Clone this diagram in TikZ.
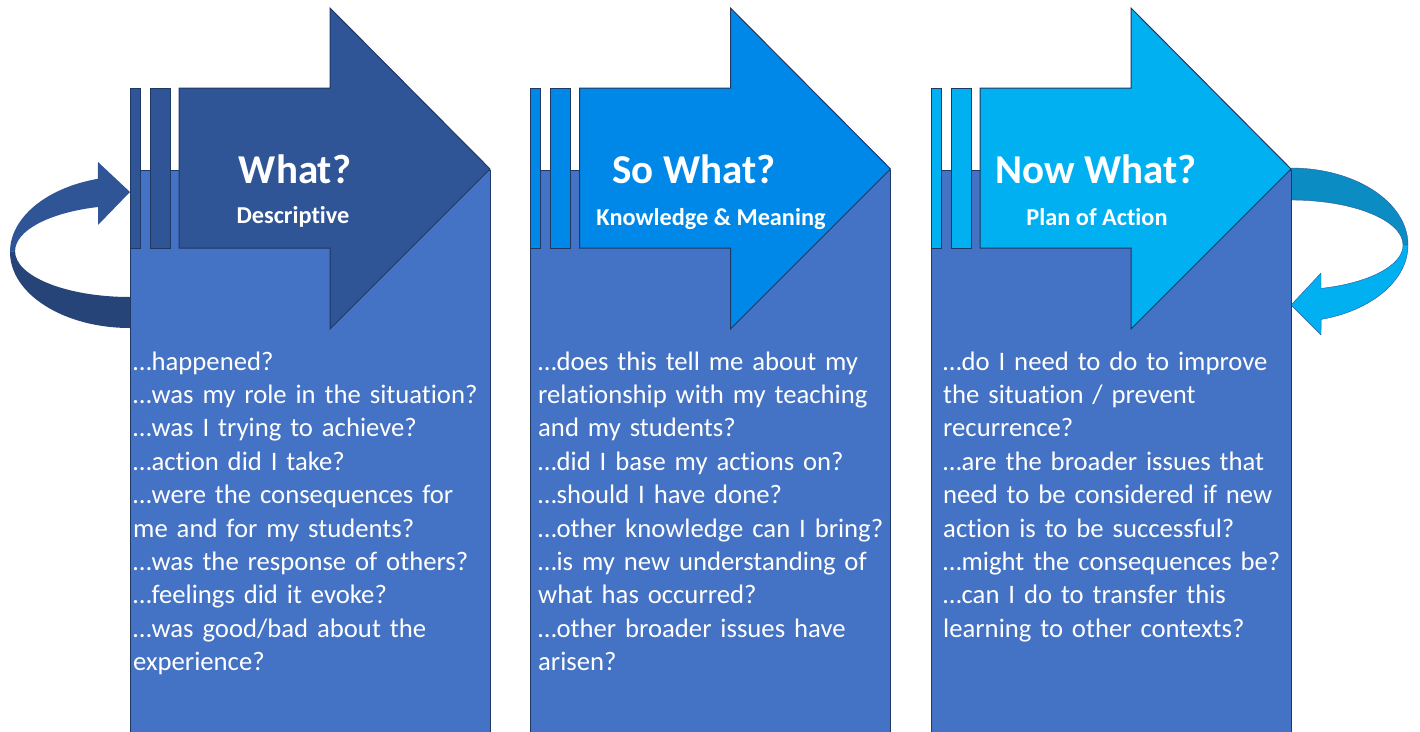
\documentclass[tikz,border=0pt]{standalone}
\usepackage{fontspec}
\setmainfont{Carlito}[Ligatures=CommonOff,Contextuals=AlternateOff,RawFeature={-liga;-clig;-calt;-dlig}]
\definecolor{navy}{HTML}{1F3864}
\definecolor{bodyblue}{HTML}{4472C4}
\definecolor{whatblue}{HTML}{2F5597}
\definecolor{sowhatblue}{HTML}{0088E8}
\definecolor{nowwhatblue}{HTML}{00B0F0}
\definecolor{loopdark}{HTML}{264478}
\definecolor{loopcyan}{HTML}{0B8DC4}
\begin{document}
\begin{tikzpicture}[x=1pt,y=-1pt,
		bodybox/.style={fill=bodyblue,draw=navy,line width=1pt},
		bigarrow/.style={draw=navy,line width=1pt,line join=miter},
		title/.style={text=white,font=\fontsize{41}{48}\selectfont\bfseries,anchor=base,inner sep=0pt},
		subtitle/.style={text=white,font=\fontsize{24.3}{28}\selectfont\bfseries,anchor=base,inner sep=0pt},
		questions/.style={text=white,font=\fontsize{26.7}{33.4}\selectfont,anchor=base west,align=left,inner sep=0pt,text width=400pt}]
		\useasboundingbox (0,0) rectangle (1420,731);
		% loop back into the first step
		\fill[loopdark](10,252) arc[start angle=180,end angle=90,x radius=120,y radius=76]
		-- (130,297) arc[start angle=90,end angle=180,x radius=115,y radius=46] -- cycle;
		\fill[whatblue](98,162) -- (130,192) -- (98,225) -- (98,207)
		arc[start angle=253.8,end angle=180,x radius=115,y radius=46]
		-- (10,252) arc[start angle=180,end angle=254.5,x radius=120,y radius=76] -- cycle;
		% loop back out of the last step
		\draw[whatblue,fill=loopcyan](1291,168) arc[start angle=270,end angle=360,x radius=117,y radius=77]
		-- (1403,245) arc[start angle=0,end angle=-90,x radius=112,y radius=45] -- cycle;
		\draw[whatblue,fill=nowwhatblue](1408,245) arc[start angle=0,end angle=75.1,x radius=117,y radius=77]
		-- (1321,335) -- (1291,305) -- (1321,273) -- (1321,288.4)
		arc[start angle=74.5,end angle=0,x radius=112,y radius=45] -- cycle;
		% the three steps
		\foreach \x/\col in {130/whatblue,530.5/sowhatblue,931/nowwhatblue}{
			\draw[bodybox](\x,170) rectangle (\x+360,733);
			\draw[bigarrow,fill=\col](\x+49,88) -- (\x+200,88) -- (\x+200,8) -- (\x+360,169)
			-- (\x+200,329) -- (\x+200,248) -- (\x+49,248) -- cycle;
			\draw[bigarrow,fill=\col](\x,88) rectangle (\x+10,248) (\x+20,88) rectangle (\x+40,248);
		}
		\node[title] (what) at (295,183) {What?};
		\node[subtitle] (whatsub) at (293,223) {Descriptive};
		\node[title] (sowhat) at (694,183) {So What?};
		\node[subtitle] (sowhatsub) at (711,225) {Knowledge \& Meaning};
		\node[title] (nowwhat) at (1096,183) {Now What?};
		\node[subtitle] (nowwhatsub) at (1097,225) {Plan of Action};
		\node[questions] (whatq) at (133,370) {…happened?\\
			…was my role in the situation?\\
			…was I trying to achieve?\\
			…action did I take?\\
			…were the consequences for\\
			me and for my students?\\
			…was the response of others?\\
			…feelings did it evoke?\\
			…was good/bad about the\\
			experience?};
		\node[questions] (sowhatq) at (538,370) {…does this tell me about my\\
			relationship with my teaching\\
			and my students?\\
			…did I base my actions on?\\
			…should I have done?\\
			…other knowledge can I bring?\\
			…is my new understanding of\\
			what has occurred?\\
			…other broader issues have\\
			arisen?};
		\node[questions] (nowwhatq) at (943,370) {…do I need to do to improve\\
			the situation / prevent\\
			recurrence?\\
			…are the broader issues that\\
			need to be considered if new\\
			action is to be successful?\\
			…might the consequences be?\\
			…can I do to transfer this\\
			learning to other contexts?};
	\end{tikzpicture}
\end{document}
